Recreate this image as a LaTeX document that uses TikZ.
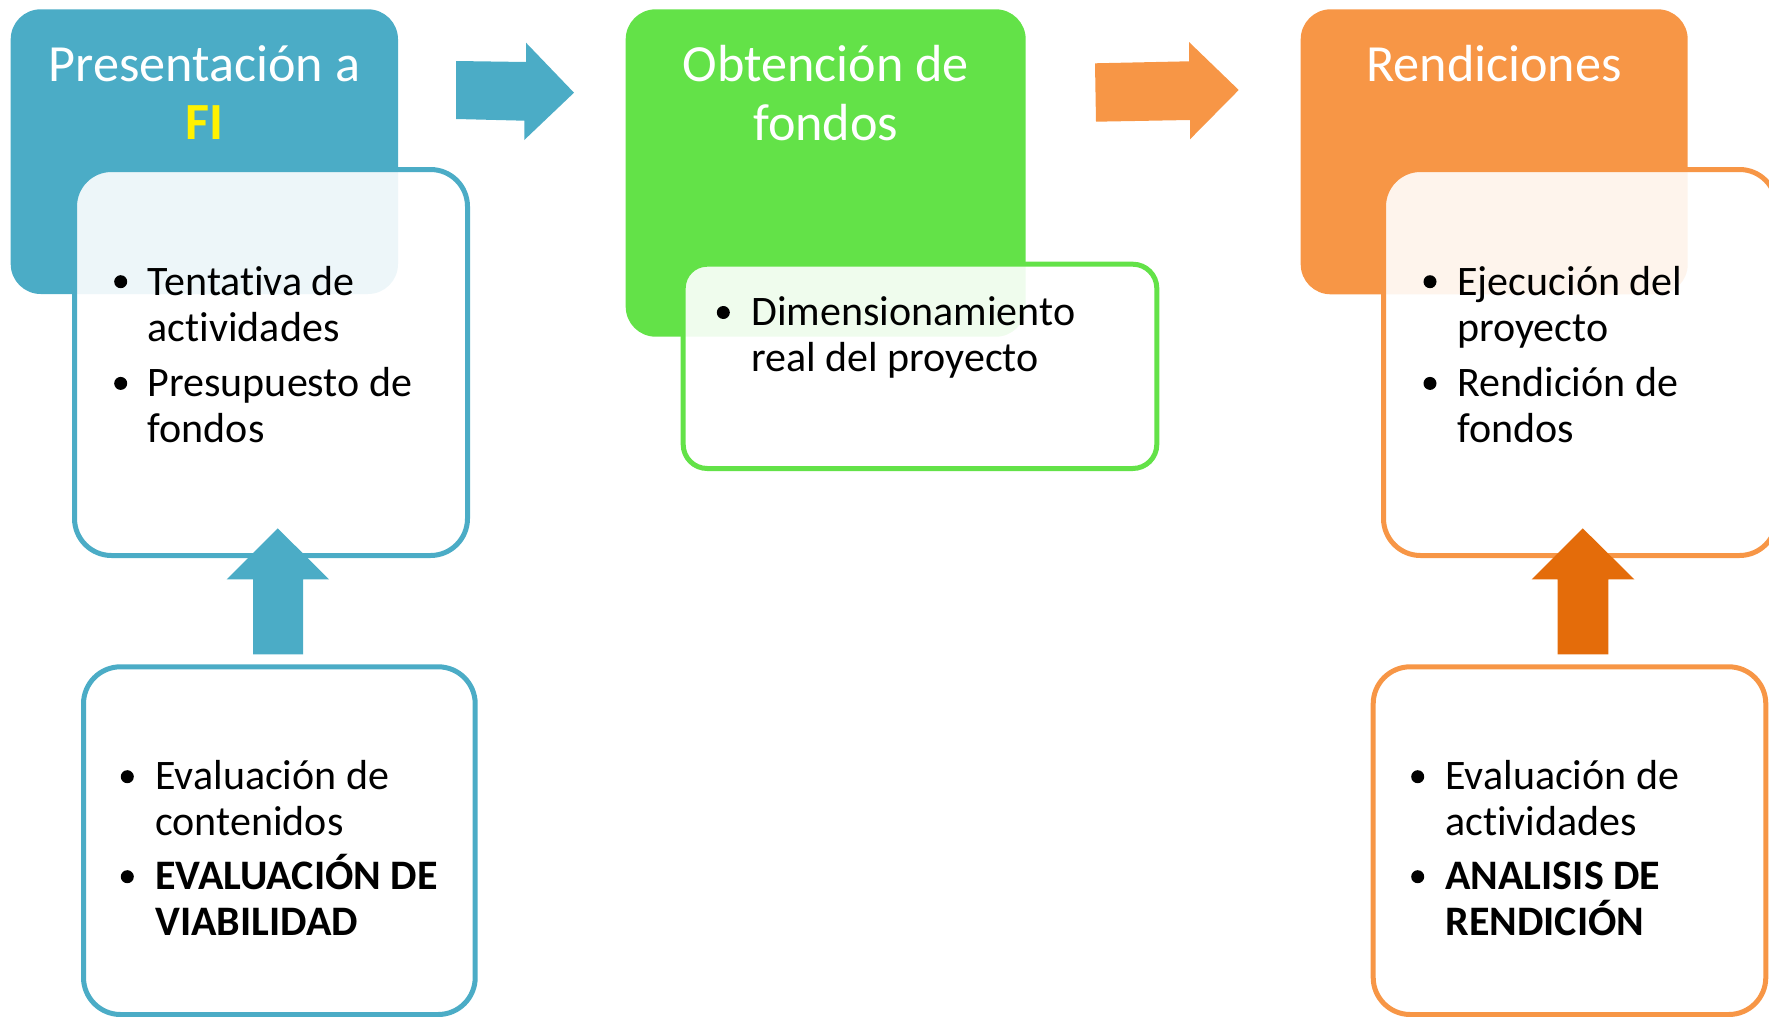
\documentclass[tikz,border=0pt]{standalone}
\usepackage{fontspec}
\setmainfont{Carlito}[Ligatures=NoCommon, Contextuals=NoAlternate]
\definecolor{cblue}{RGB}{75,172,198}
\definecolor{cgreen}{RGB}{99,226,72}
\definecolor{corange}{RGB}{247,150,70}
\definecolor{cdark}{RGB}{228,108,10}
\tikzset{
  hdr/.style={anchor=base, inner sep=0pt, text=white, font=\fontsize{26.1}{30}\selectfont},
  itemline/.style={anchor=base west, inner sep=0pt, text=black, font=\fontsize{21}{25}\selectfont},
  itembold/.style={itemline, font=\fontsize{21}{25}\selectfont\bfseries},
  dot/.style={circle, fill=black, inner sep=0pt, minimum size=6.5pt},
  panel/.style={line width=2.5pt, fill=white, fill opacity=0.9, rounded corners=18.5pt},
  headbox/.style={rounded corners=15pt}
}
\begin{document}
\begin{tikzpicture}[x=0.5pt,y=-0.5pt]
\useasboundingbox (0,0) rectangle (1769,1017);
% header boxes
\fill[cblue, headbox] (10.7,9.3) rectangle (398,294);
\fill[cgreen, headbox] (625.7,9.3) rectangle (1025.7,336.7);
\fill[corange, headbox] (1300.7,9.3) rectangle (1687.7,294.3);
% panels
\draw[panel, draw=cblue] (74.5,169.5) rectangle (467.5,555.5);
\draw[panel, draw=cgreen, rounded corners=12pt] (683.2,264.2) rectangle (1156.8,468.5);
\draw[panel, draw=corange] (1383.5,169.5) rectangle (1776.5,555.5);
\draw[panel, draw=cblue] (83.5,666.8) rectangle (475.2,1014.5);
\draw[panel, draw=corange] (1373.2,666.8) rectangle (1765.8,1014.5);
% block arrows
\fill[cblue] (456,61) -- (526,62) -- (526,42.7) -- (574,92.7) -- (524.3,140) -- (524.3,120.7) -- (456,119) -- cycle;
\fill[corange] (1095,63.3) -- (1189,61.3) -- (1189,42) -- (1238.7,90) -- (1190,139.3) -- (1190,120) -- (1096,121.7) -- cycle;
\fill[cblue] (253,654.3) -- (253,579.3) -- (226.7,579.3) -- (277.7,528.3) -- (329,579.3) -- (303,579.3) -- (303,654.3) -- cycle;
\fill[cdark] (1557.7,654.3) -- (1557.7,579.3) -- (1531.7,579.3) -- (1582.7,528.3) -- (1634.3,579.3) -- (1608.3,579.3) -- (1608.3,654.3) -- cycle;
% header texts
\node[hdr] (h1a) at (204.4,81) {Presentación a};
\node[hdr, text=yellow, font=\fontsize{26.1}{30}\selectfont\bfseries] (h1b) at (204.7,139) {FI};
\node[hdr] (h2a) at (825.7,81) {Obtención de};
\node[hdr] (h2b) at (825.7,140) {fondos};
\node[hdr] (h3a) at (1494,81) {Rendiciones};
% blue panel items
\node[dot] (b1) at (120.7,281.7) {};
\node[itemline] (t1a) at (147.3,295) {Tentativa de};
\node[itemline] (t1b) at (147.3,341.7) {actividades};
\node[dot] (b2) at (120.7,383.4) {};
\node[itemline] (t1c) at (147.3,396.7) {Presupuesto de};
\node[itemline] (t1d) at (147.3,442.7) {fondos};
% green panel items
\node[dot] (b3) at (723.3,312.5) {};
\node[itemline] (t2a) at (751,325) {Dimensionamiento};
\node[itemline] (t2b) at (751,371.7) {real del proyecto};
% orange panel items
\node[dot] (b4) at (1430,281.7) {};
\node[itemline] (t3a) at (1457,295) {Ejecución del};
\node[itemline] (t3b) at (1457,341.7) {proyecto};
\node[dot] (b5) at (1430,383.4) {};
\node[itemline] (t3c) at (1457,396.7) {Rendición de};
\node[itemline] (t3d) at (1457,442.7) {fondos};
% blue bottom panel items
\node[dot] (b6) at (127.3,776.7) {};
\node[itemline] (t4a) at (155,789.3) {Evaluación de};
\node[itemline] (t4b) at (155,835) {contenidos};
\node[dot] (b7) at (127.3,876.7) {};
\node[itembold] (t4c) at (155,889.3) {EVALUACIÓN DE};
\node[itembold] (t4d) at (155,935) {VIABILIDAD};
% orange bottom panel items
\node[dot] (b8) at (1417.7,776.7) {};
\node[itemline] (t5a) at (1445,789.3) {Evaluación de};
\node[itemline] (t5b) at (1445,835) {actividades};
\node[dot] (b9) at (1417.7,876.7) {};
\node[itembold] (t5c) at (1445,889.3) {ANALISIS DE};
\node[itembold] (t5d) at (1445,935) {RENDICIÓN};
\end{tikzpicture}
\end{document}
